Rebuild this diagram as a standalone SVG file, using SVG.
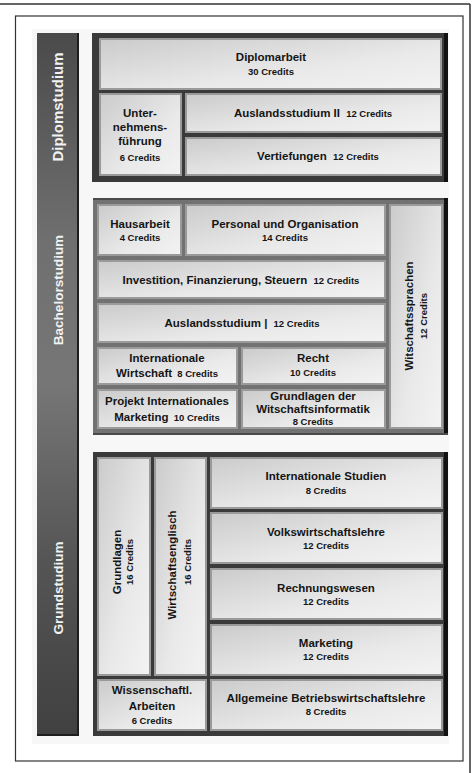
<svg xmlns="http://www.w3.org/2000/svg" width="473" height="773" viewBox="0 0 473 773">
<defs>
<linearGradient id="cell" x1="0" y1="0" x2="1" y2="1">
<stop offset="0" stop-color="#cbcbcb"/>
<stop offset="0.6" stop-color="#e9e9e9"/>
<stop offset="1" stop-color="#f3f3f3"/>
</linearGradient>
<linearGradient id="side" x1="0" y1="0" x2="0" y2="1">
<stop offset="0" stop-color="#4a4a4a"/>
<stop offset="0.3" stop-color="#707070"/>
<stop offset="0.5" stop-color="#767676"/>
<stop offset="0.75" stop-color="#555555"/>
<stop offset="1" stop-color="#404040"/>
</linearGradient>
</defs>
<style>
.cell{fill:url(#cell);stroke:#9a9a9a;stroke-width:2}
.t{font-family:"Liberation Sans",Arial,sans-serif;font-weight:bold;font-size:11.5px;fill:#151515;text-anchor:middle}
.c{font-size:9.5px}
.s{font-family:"Liberation Sans",Arial,sans-serif;font-weight:bold;fill:#f2f2f2;text-anchor:middle}
</style>
<rect x="0" y="0" width="473" height="773" fill="#ffffff"/>
<line x1="0" y1="4" x2="470" y2="4" stroke="#333" stroke-width="1.5"/>
<line x1="470" y1="4" x2="470" y2="773" stroke="#333" stroke-width="1.5"/>
<rect x="15.5" y="16" width="447.5" height="745" fill="#ffffff" stroke="#333" stroke-width="1.2"/>
<rect x="32" y="29" width="417" height="715" fill="#f7f7f7"/>

<g id="sidebar">
<rect x="37" y="33" width="42" height="703" fill="url(#side)"/>
<rect x="77" y="33" width="2" height="703" fill="#1e1e1e"/>
<rect x="37" y="734" width="42" height="2" fill="#1e1e1e"/>
<text class="s" font-size="15" transform="translate(63,107) rotate(-90)">Diplomstudium</text>
<text class="s" font-size="13.5" transform="translate(63,290) rotate(-90)">Bachelorstudium</text>
<text class="s" font-size="13.5" transform="translate(63,588) rotate(-90)">Grundstudium</text>
</g>

<g id="diplom">
<rect x="92" y="33" width="356" height="149" fill="#3a3a3a"/>
<rect x="444" y="33" width="4" height="149" fill="#111"/>
<g id="diplomarbeit"><rect class="cell" x="100" y="39" width="341" height="50"/>
<text class="t" x="271" y="61">Diplomarbeit</text><text class="t c" x="271" y="75">30 Credits</text></g>
<g id="unternehmensfuehrung"><rect class="cell" x="100" y="94" width="81" height="81"/>
<text class="t" x="140" y="117">Unter-</text><text class="t" x="140" y="131">nehmens-</text><text class="t" x="140" y="145">führung</text><text class="t c" x="140" y="161">6 Credits</text></g>
<g id="auslandsstudium2"><rect class="cell" x="186" y="94" width="255" height="38"/>
<text class="t" x="313" y="117">Auslandsstudium II <tspan class="c" dx="3">12 Credits</tspan></text></g>
<g id="vertiefungen"><rect class="cell" x="186" y="138" width="255" height="37"/>
<text class="t" x="318" y="160">Vertiefungen <tspan class="c" dx="3">12 Credits</tspan></text></g>
</g>

<g id="bachelor">
<rect x="93" y="198" width="355" height="237" fill="#727272"/>
<rect x="93" y="198" width="355" height="2" fill="#4a4a4a"/>
<rect x="444" y="198" width="4" height="237" fill="#111"/>
<rect x="93" y="433" width="355" height="2" fill="#4a4a4a"/>
<g id="hausarbeit"><rect class="cell" x="98" y="205" width="83" height="50"/>
<text class="t" x="140" y="228">Hausarbeit</text><text class="t c" x="140" y="241">4 Credits</text></g>
<g id="personal"><rect class="cell" x="186" y="205" width="199" height="50"/>
<text class="t" x="285" y="228">Personal und Organisation</text><text class="t c" x="285" y="241">14 Credits</text></g>
<g id="investition"><rect class="cell" x="98" y="261" width="287" height="37"/>
<text class="t" x="241" y="284">Investition, Finanzierung, Steuern <tspan class="c" dx="3">12 Credits</tspan></text></g>
<g id="auslandsstudium1"><rect class="cell" x="98" y="304" width="287" height="38"/>
<text class="t" x="242" y="327">Auslandsstudium | <tspan class="c" dx="3">12 Credits</tspan></text></g>
<g id="intwirtschaft"><rect class="cell" x="98" y="348" width="139" height="36"/>
<text class="t" x="167" y="362">Internationale</text><text class="t" x="167" y="377">Wirtschaft <tspan class="c" dx="2">8 Credits</tspan></text></g>
<g id="recht"><rect class="cell" x="242" y="348" width="143" height="36"/>
<text class="t" x="313" y="362">Recht</text><text class="t c" x="313" y="376">10 Credits</text></g>
<g id="projekt"><rect class="cell" x="98" y="390" width="139" height="38"/>
<text class="t" x="167" y="405">Projekt Internationales</text><text class="t" x="167" y="421">Marketing <tspan class="c" dx="2">10 Credits</tspan></text></g>
<g id="wirtschaftsinformatik"><rect class="cell" x="242" y="390" width="143" height="38"/>
<text class="t" x="313" y="400">Grundlagen der</text><text class="t" x="313" y="413">Witschaftsinformatik</text><text class="t c" x="313" y="425">8 Credits</text></g>
<g id="wirtschaftssprachen"><rect class="cell" x="390" y="205" width="52" height="223"/>
<text class="t" transform="translate(413,316) rotate(-90)">Witschaftssprachen</text>
<text class="t c" transform="translate(427,316) rotate(-90)">12 Credits</text></g>
</g>

<g id="grund">
<rect x="93" y="452" width="355" height="284" fill="#3a3a3a"/>
<rect x="444" y="452" width="4" height="284" fill="#111"/>
<g id="grundlagen"><rect class="cell" x="98" y="458" width="52" height="217"/>
<text class="t" transform="translate(121,562) rotate(-90)">Grundlagen</text>
<text class="t c" transform="translate(133,562) rotate(-90)">16 Credits</text></g>
<g id="wirtschaftsenglisch"><rect class="cell" x="155" y="458" width="51" height="217"/>
<text class="t" transform="translate(176,565) rotate(-90)">Wirtschaftsenglisch</text>
<text class="t c" transform="translate(191,562) rotate(-90)">16 Credits</text></g>
<g id="intstudien"><rect class="cell" x="211" y="458" width="231" height="50"/>
<text class="t" x="326" y="480">Internationale Studien</text><text class="t c" x="326" y="494">8 Credits</text></g>
<g id="vwl"><rect class="cell" x="211" y="513" width="231" height="50"/>
<text class="t" x="326" y="536">Volkswirtschaftslehre</text><text class="t c" x="326" y="549">12 Credits</text></g>
<g id="rechnungswesen"><rect class="cell" x="211" y="569" width="231" height="50"/>
<text class="t" x="326" y="592">Rechnungswesen</text><text class="t c" x="326" y="605">12 Credits</text></g>
<g id="marketing"><rect class="cell" x="211" y="625" width="231" height="50"/>
<text class="t" x="326" y="647">Marketing</text><text class="t c" x="326" y="660">12 Credits</text></g>
<g id="wissarbeiten"><rect class="cell" x="98" y="680" width="108" height="50"/>
<text class="t" x="152" y="694">Wissenschaftl.</text><text class="t" x="152" y="710">Arbeiten</text><text class="t c" x="152" y="724">6 Credits</text></g>
<g id="abwl"><rect class="cell" x="211" y="680" width="231" height="50"/>
<text class="t" x="326" y="702">Allgemeine Betriebswirtschaftslehre</text><text class="t c" x="326" y="715">8 Credits</text></g>
</g>

<g id="connectors"/>
</svg>
